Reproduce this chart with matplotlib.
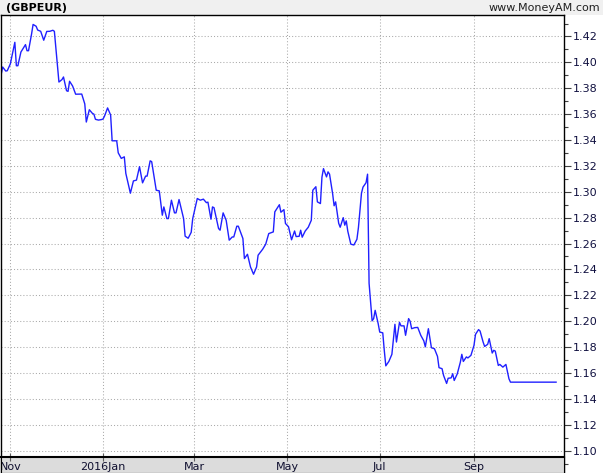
import numpy as np
import pandas as pd
import matplotlib
matplotlib.use('Agg')
import matplotlib.pyplot as plt
import matplotlib.dates as mdates
from matplotlib.patches import Rectangle
from matplotlib.ticker import MultipleLocator, FormatStrFormatter, FuncFormatter


# ---- GBPEUR closes ----

dates = [
    '2015-10-25', '2015-10-27', '2015-10-29', '2015-10-30',
    '2015-11-01', '2015-11-04', '2015-11-05', '2015-11-06', '2015-11-08', '2015-11-11',
    '2015-11-12', '2015-11-13', '2015-11-15', '2015-11-16', '2015-11-18', '2015-11-19',
    '2015-11-21', '2015-11-23', '2015-11-25', '2015-11-27', '2015-11-29', '2015-11-30',
    '2015-12-03', '2015-12-05', '2015-12-06', '2015-12-08', '2015-12-09', '2015-12-10',
    '2015-12-12', '2015-12-14', '2015-12-17', '2015-12-18', '2015-12-20', '2015-12-21',
    '2015-12-23', '2015-12-25', '2015-12-26', '2015-12-27', '2015-12-29', '2015-12-31',
    '2016-01-01', '2016-01-02', '2016-01-04', '2016-01-06', '2016-01-07', '2016-01-10',
    '2016-01-11', '2016-01-13', '2016-01-15', '2016-01-16', '2016-01-19', '2016-01-21',
    '2016-01-23', '2016-01-25', '2016-01-27', '2016-01-29', '2016-01-30',
    '2016-02-01', '2016-02-02', '2016-02-05', '2016-02-07', '2016-02-09', '2016-02-10',
    '2016-02-12', '2016-02-13', '2016-02-15', '2016-02-17', '2016-02-18', '2016-02-20',
    '2016-02-23', '2016-02-24', '2016-02-26', '2016-02-28', '2016-02-29',
    '2016-03-03', '2016-03-05', '2016-03-07', '2016-03-09', '2016-03-10', '2016-03-12',
    '2016-03-13', '2016-03-14', '2016-03-17', '2016-03-18', '2016-03-20', '2016-03-22',
    '2016-03-24', '2016-03-26', '2016-03-27', '2016-03-29', '2016-03-30',
    '2016-04-02', '2016-04-03', '2016-04-05', '2016-04-07', '2016-04-09', '2016-04-11',
    '2016-04-12', '2016-04-15', '2016-04-17', '2016-04-19', '2016-04-22', '2016-04-23',
    '2016-04-26', '2016-04-27', '2016-04-29', '2016-04-30',
    '2016-05-02', '2016-05-04', '2016-05-06', '2016-05-07', '2016-05-09', '2016-05-10',
    '2016-05-11', '2016-05-13', '2016-05-15', '2016-05-17', '2016-05-18', '2016-05-20',
    '2016-05-21', '2016-05-23', '2016-05-24', '2016-05-25', '2016-05-27', '2016-05-28',
    '2016-05-29', '2016-05-31',
    '2016-06-01', '2016-06-02', '2016-06-04', '2016-06-05', '2016-06-07', '2016-06-08',
    '2016-06-09', '2016-06-10', '2016-06-12', '2016-06-14', '2016-06-16', '2016-06-17',
    '2016-06-19', '2016-06-20', '2016-06-22', '2016-06-23', '2016-06-24', '2016-06-26',
    '2016-06-27', '2016-06-28', '2016-06-30',
    '2016-07-01', '2016-07-03', '2016-07-04', '2016-07-05', '2016-07-07', '2016-07-09',
    '2016-07-11', '2016-07-12', '2016-07-14', '2016-07-15', '2016-07-17', '2016-07-18',
    '2016-07-20', '2016-07-21', '2016-07-22', '2016-07-24', '2016-07-26', '2016-07-28',
    '2016-07-30', '2016-07-31',
    '2016-08-02', '2016-08-04', '2016-08-06', '2016-08-08', '2016-08-09', '2016-08-11',
    '2016-08-12', '2016-08-14', '2016-08-15', '2016-08-17', '2016-08-18', '2016-08-19',
    '2016-08-21', '2016-08-23', '2016-08-24', '2016-08-25', '2016-08-27', '2016-08-28',
    '2016-08-30',
    '2016-09-01', '2016-09-02', '2016-09-04', '2016-09-05', '2016-09-07', '2016-09-08',
    '2016-09-10', '2016-09-11', '2016-09-13', '2016-09-14', '2016-09-15', '2016-09-17',
    '2016-09-18', '2016-09-20', '2016-09-22', '2016-09-24', '2016-09-25',
    '2016-10-25',
]

gbpeur = [
    1.3848, 1.3964, 1.3933, 1.3935,
    1.3987, 1.4155, 1.3974, 1.3974, 1.4080, 1.4137,
    1.4090, 1.4090, 1.4219, 1.4293, 1.4279, 1.4250,
    1.4240, 1.4171, 1.4239, 1.4240, 1.4248, 1.4240,
    1.3848, 1.3867, 1.3887, 1.3781, 1.3776, 1.3854,
    1.3817, 1.3754, 1.3755, 1.3755, 1.3679, 1.3539,
    1.3634, 1.3606, 1.3600, 1.3560, 1.3554, 1.3558,
    1.3562, 1.3585, 1.3648, 1.3593, 1.3394, 1.3394,
    1.3301, 1.3258, 1.3270, 1.3142, 1.2989, 1.3084,
    1.3090, 1.3194, 1.3069, 1.3121, 1.3121,
    1.3239, 1.3233, 1.3012, 1.3007, 1.2819, 1.2883,
    1.2793, 1.2793, 1.2935, 1.2837, 1.2837, 1.2940,
    1.2793, 1.2657, 1.2641, 1.2687, 1.2793,
    1.2948, 1.2935, 1.2943, 1.2916, 1.2920, 1.2788,
    1.2883, 1.2877, 1.2716, 1.2703, 1.2837, 1.2780,
    1.2626, 1.2651, 1.2651, 1.2734, 1.2734,
    1.2639, 1.2484, 1.2517, 1.2419, 1.2363, 1.2419,
    1.2510, 1.2556, 1.2595, 1.2677, 1.2690, 1.2845,
    1.2900, 1.2842, 1.2862, 1.2755,
    1.2730, 1.2629, 1.2697, 1.2654, 1.2656, 1.2703,
    1.2649, 1.2697, 1.2726, 1.2780, 1.3012, 1.3039,
    1.2922, 1.2909, 1.3113, 1.3179, 1.3115, 1.3154,
    1.3136, 1.2987,
    1.2892, 1.2922, 1.2757, 1.2726, 1.2800, 1.2742,
    1.2775, 1.2695, 1.2595, 1.2589, 1.2633, 1.2724,
    1.2989, 1.3036, 1.3070, 1.3136, 1.2293, 1.2003,
    1.2020, 1.2084, 1.1980,
    1.1916, 1.1910, 1.1774, 1.1655, 1.1689, 1.1744,
    1.1976, 1.1839, 1.1991, 1.1964, 1.1964, 1.1891,
    1.2020, 1.1999, 1.1942, 1.1950, 1.1952, 1.1891,
    1.1848, 1.1802,
    1.1942, 1.1795, 1.1787, 1.1728, 1.1641, 1.1633,
    1.1581, 1.1519, 1.1559, 1.1562, 1.1594, 1.1542,
    1.1593, 1.1682, 1.1744, 1.1689, 1.1724, 1.1716,
    1.1736,
    1.1813, 1.1898, 1.1935, 1.1924, 1.1839, 1.1805,
    1.1821, 1.1865, 1.1754, 1.1775, 1.1769, 1.1658,
    1.1666, 1.1645, 1.1666, 1.1555, 1.1529,
    1.1529,
]

x_start, x_end = '2015-10-25 21:30', '2016-10-30 05:00'
y_min, y_max = 1.0827, 1.4366

symbol = '(GBPEUR)'
source = 'www.MoneyAM.com'

x = pd.to_datetime(dates)

# ---- Figure layout (pixel based, 603 x 473) ----
W, H = 603, 473
fig = plt.figure(figsize=(W / 100, H / 100), dpi=100, facecolor='white')

# light grey header band
fig.add_artist(Rectangle((0, (H - 15) / H), 1, 15 / H, transform=fig.transFigure,
                         facecolor='#f0f0f0', edgecolor='none', zorder=0))
fig.text(6 / W, 1 - 8 / H, symbol, fontsize=8, fontweight='bold', ha='left', va='center')
fig.text(600 / W, 1 - 8 / H, source, fontsize=8, ha='right', va='center', color='#202020')

# main price panel (runs down to the bottom, date strip sits on top of it)
ax = fig.add_axes([1 / W, 0, 563 / W, (H - 15) / H])
ax.plot(x, gbpeur, color='#2020ff', lw=1.0)

ax.set_xlim(pd.Timestamp(x_start), pd.Timestamp(x_end))
ax.set_ylim(y_min, y_max)

months = mdates.MonthLocator(bymonth=[1, 3, 5, 7, 9, 11])
ax.xaxis.set_major_locator(months)
ax.tick_params(axis='x', length=0, labelbottom=False)

ax.yaxis.tick_right()
ax.yaxis.set_major_locator(MultipleLocator(0.02))
ax.yaxis.set_minor_locator(MultipleLocator(0.01))
ax.yaxis.set_major_formatter(FormatStrFormatter('%.2f'))
ax.tick_params(axis='y', which='major', direction='out', length=5, width=0.8,
               pad=1.5, labelsize=8, labelcolor='#101040', color='#404040')
ax.tick_params(axis='y', which='minor', direction='out', length=3, width=0.8, color='#404040')

ax.grid(True, which='major', color='#aaaaaa', lw=0.75, linestyle=(0, (1, 2)))

for side in ['top', 'left', 'right']:
    ax.spines[side].set_color('black')
    ax.spines[side].set_linewidth(1.0)
ax.spines['bottom'].set_visible(False)

# ---- Date strip at the bottom ----
strip = fig.add_axes([1 / W, 0, 563 / W, 16 / H], sharex=ax)
strip.set_facecolor('#dcdcdc')
strip.set_yticks([])
strip.xaxis.set_major_locator(months)


def month_label(v, pos):
    d = mdates.num2date(v)
    if d.month == 1:
        return f'{d.year}Jan'
    return d.strftime('%b')


strip.xaxis.set_major_formatter(FuncFormatter(month_label))
strip.tick_params(axis='x', direction='inout', length=6, width=0.8, top=True, bottom=False,
                  labelbottom=True, pad=-11, labelsize=8, labelcolor='#101030', color='#606060')
for side in strip.spines:
    strip.spines[side].set_color('black')
strip.spines['top'].set_linewidth(1.5)

fig.savefig('out.png', dpi=100, facecolor=fig.get_facecolor())
